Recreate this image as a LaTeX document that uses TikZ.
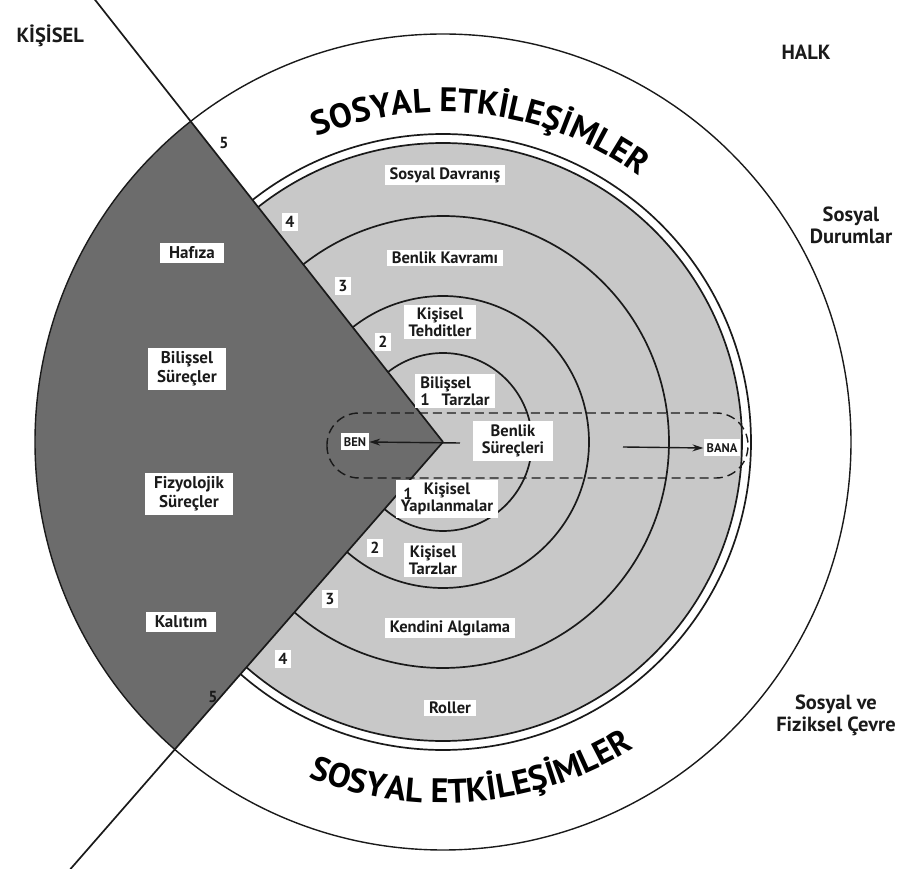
\documentclass[tikz,border=0pt]{standalone}
\usepackage{fontspec}
\setmainfont{PT Sans}
\usetikzlibrary{arrows.meta,decorations.text}
\definecolor{Ink}{HTML}{1A1A1A}
\definecolor{DiskGray}{HTML}{C8C8C8}
\definecolor{WedgeGray}{HTML}{6C6C6C}
\newcommand{\RingLbl}[4]{%
  \node[lblbox] (#1) at (#2,#3) {#4};%
}
\tikzset{
  lblbox/.style={fill=white,inner xsep=5pt,inner ysep=2.5pt,align=center,
    font=\bfseries\fontsize{16.5}{17}\selectfont,text=Ink},
  wedgebox/.style={lblbox,inner xsep=9pt,inner ysep=4pt,font=\bfseries\fontsize{17}{19}\selectfont},
  numbox/.style={fill=white,inner sep=3pt,font=\bfseries\fontsize{16}{17}\selectfont,text=Ink},
  outlbl/.style={align=center,font=\bfseries\fontsize{20.5}{22}\selectfont,text=Ink},
  ringline/.style={draw=Ink,line width=1.7pt},
  arctext/.style={decorate,decoration={text along path,text align=center,
    text={|\bfseries\fontsize{34}{34}\selectfont|SOSYAL ETKİLEŞİMLER}}}
}
\begin{document}
\begin{tikzpicture}[x=1pt,y=1pt]
\useasboundingbox (-443,-427) rectangle (457,442);
% disk and wedge
\fill[DiskGray] (0,0) circle (299);
\fill[WedgeGray] (0,0) -- (128.2:408) arc[start angle=128.2,end angle=228.9,radius=408] -- cycle;
\foreach \r in {89,146,226,299,308} {
  \draw[ringline] (-131.1:\r) arc[start angle=-131.1,end angle=128.2,radius=\r];
}
\draw[ringline,line width=1.4pt] (0,0) circle (408);
\coordinate (apex) at (0,0);
\coordinate (upend) at (128.2:563);
\coordinate (lowend) at (228.9:567);
\draw[ringline] (apex) -- (upend);
\draw[ringline] (apex) -- (lowend);
% dashed band
\draw[Ink,line width=1.4pt,dash pattern=on 9pt off 5pt,rounded corners=32pt] (-116,29) rectangle (305,-36);
% arc titles
\path[arctext] (111:330) arc[start angle=111,end angle=55,radius=330];
\path[arctext] (246:361) arc[start angle=246,end angle=304,radius=361];
% outside labels
\node[outlbl,anchor=west] (kisisel) at (-430,406) {KİŞİSEL};
\node[outlbl] (halk) at (363,390) {HALK};
\node[outlbl] (durumlar) at (408,217) {Sosyal\\Durumlar};
\node[outlbl] (cevre) at (393,-273) {Sosyal ve\\Fiziksel Çevre};
% ring labels
\RingLbl{davranis}{2}{267}{Sosyal Davranış}
\RingLbl{kavram}{2}{184}{Benlik Kavramı}
\RingLbl{tehdit}{-3}{120}{Kişisel\\Tehditler}
\node[lblbox,align=left] (biltarz) at (12,51) {Bilişsel\\1\hspace{12pt}Tarzlar};
\node[lblbox,inner xsep=9pt,inner ysep=4pt] (surec) at (70,1) {Benlik\\Süreçleri};
\RingLbl{yapi}{4}{-57}{Kişisel\\Yapılanmalar}
\node[font=\bfseries\fontsize{16}{17}\selectfont,text=Ink] (onelow) at (-35,-52) {1};
\RingLbl{kistarz}{-10}{-118}{Kişisel\\Tarzlar}
\RingLbl{algi}{7}{-186}{Kendini Algılama}
\RingLbl{roller}{7}{-266}{Roller}
% wedge labels
\node[wedgebox] (hafiza) at (-251,189) {Hafıza};
\node[wedgebox] (bilsurec) at (-256,73) {Bilişsel\\Süreçler};
\node[wedgebox] (fizyo) at (-254,-52) {Fizyolojik\\Süreçler};
\node[wedgebox] (kalitim) at (-262,-180) {Kalıtım};
% ring numbers
\foreach \n/\x/\y in {2/-60/100,3/-100/156,4/-153/220} {
  \node[numbox] (nu\n) at (\x,\y) {\n};
}
\foreach \n/\x/\y in {2/-68/-106,3/-113/-157,4/-160/-217} {
  \node[numbox] (nl\n) at (\x,\y) {\n};
}
\node[numbox,fill=none] (nu5) at (-219,299) {5};
\node[numbox,fill=none] (nl5) at (-230,-255) {5};
% BEN / BANA
\node[lblbox,font=\bfseries\fontsize{12.5}{13}\selectfont,inner xsep=3pt,inner ysep=4pt] (ben) at (-88,0) {BEN};
\node[lblbox,font=\bfseries\fontsize{12.5}{13}\selectfont,inner xsep=3pt,inner ysep=4pt] (bana) at (279,-6) {BANA};
\coordinate (benstart) at (17,-1);
\coordinate (banastart) at (180,-5);
\draw[-{Stealth[length=11pt,width=7pt]},Ink,line width=1.4pt] (benstart) -- (ben.east);
\draw[-{Stealth[length=11pt,width=7pt]},Ink,line width=1.4pt] (banastart) -- (bana.west);
\end{tikzpicture}
\end{document}
